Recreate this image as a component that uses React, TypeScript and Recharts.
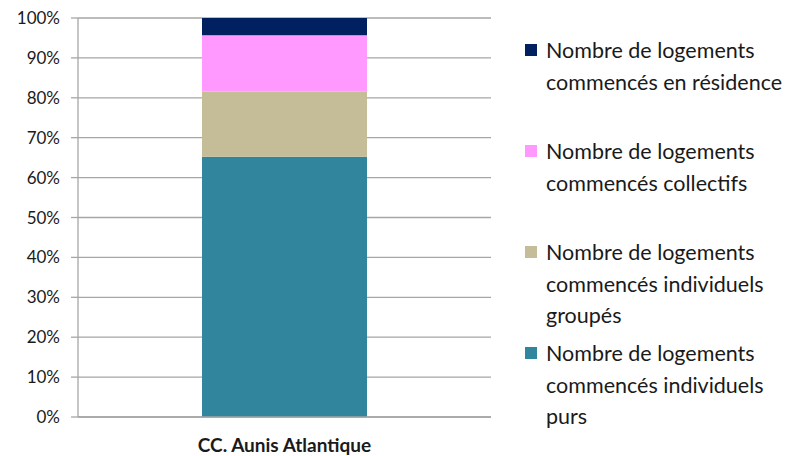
import React from 'react';
import { Bar, BarChart, CartesianGrid, Legend, XAxis, YAxis } from 'recharts';

const categories = ['CC. Aunis Atlantique'];
const individuelsPurs = [65.2];
const individuelsGroupes = [16.3];
const collectifs = [14.2];
const residence = [4.3];
const yTicks = [0, 10, 20, 30, 40, 50, 60, 70, 80, 90, 100];

const series = [
  { key: 'purs', label: 'Nombre de logements commencés individuels purs', color: '#31859C' },
  { key: 'groupes', label: 'Nombre de logements commencés individuels groupés', color: '#C4BD97' },
  { key: 'collectifs', label: 'Nombre de logements commencés collectifs', color: '#FF99FF' },
  { key: 'residence', label: 'Nombre de logements commencés en résidence', color: '#002060' },
];

const data = categories.map((name, i) => ({
  name,
  purs: individuelsPurs[i],
  groupes: individuelsGroupes[i],
  collectifs: collectifs[i],
  residence: residence[i],
}));

const legendLines: Record<string, string[]> = {
  residence: ['Nombre de logements', 'commencés en résidence'],
  collectifs: ['Nombre de logements', 'commencés collectifs'],
  groupes: ['Nombre de logements', 'commencés individuels', 'groupés'],
  purs: ['Nombre de logements', 'commencés individuels', 'purs'],
};

const renderLegend = () => (
  <div style={{ fontFamily: 'Lato, sans-serif', fontSize: 21.5, color: '#1a1a1a' }}>
    {[...series].reverse().map((s) => (
      <div key={s.key} style={{ position: 'relative', height: 101 }}>
        <div
          style={{
            position: 'absolute',
            left: 0,
            top: 9,
            width: 12,
            height: 12,
            background: s.color,
          }}
        />
        <div style={{ position: 'absolute', left: 21, top: 0, lineHeight: '31.5px', whiteSpace: 'nowrap' }}>
          {legendLines[s.key].map((l) => (
            <div key={l}>{l}</div>
          ))}
        </div>
      </div>
    ))}
  </div>
);

export default function App() {
  return (
    <div style={{ position: 'absolute', left: 0, top: 0, background: '#fff' }}>
      <BarChart
        width={787}
        height={456}
        data={data}
        margin={{ top: 18, right: 34, bottom: 4, left: 8 }}
        barSize={165}
      >
        <CartesianGrid vertical={false} stroke="#A6A6A6" strokeWidth={1.3} />
        <XAxis
          dataKey="name"
          height={35}
          tickLine={false}
          stroke="#A6A6A6"
          strokeWidth={1.3}
          tickMargin={16}
          tick={{ fill: '#1a1a1a', fontSize: 19, fontWeight: 'bold', fontFamily: 'Lato, sans-serif' }}
        />
        <YAxis
          width={70}
          domain={[0, 100]}
          ticks={yTicks}
          interval={0}
          tickFormatter={(v) => `${v}%`}
          stroke="#A6A6A6"
          strokeWidth={1.3}
          tickSize={7}
          tickMargin={11}
          tick={{ fill: '#1a1a1a', fontSize: 17, fontFamily: 'Lato, sans-serif' }}
        />
        <Legend
          layout="vertical"
          align="right"
          verticalAlign="top"
          content={renderLegend}
          wrapperStyle={{ left: 525, top: 35, width: 262 }}
        />
        {series.map((s) => (
          <Bar key={s.key} dataKey={s.key} stackId="a" fill={s.color} isAnimationActive={false} />
        ))}
      </BarChart>
    </div>
  );
}
